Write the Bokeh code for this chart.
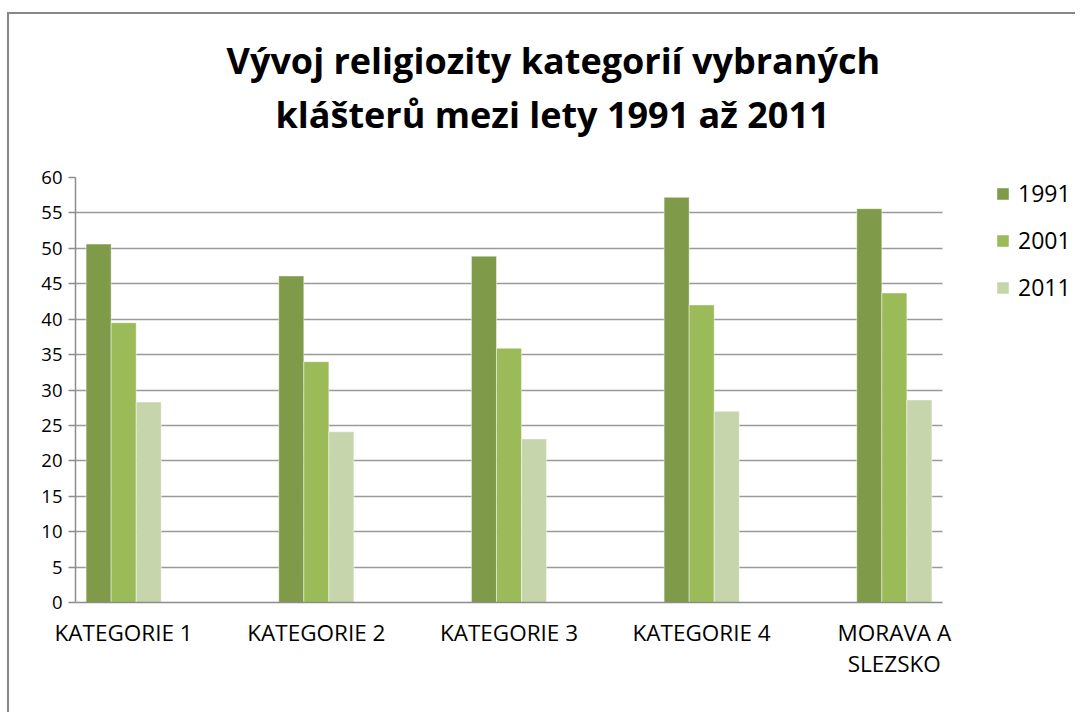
from bokeh.plotting import figure
from bokeh.models import (Range1d, FixedTicker, SingleIntervalTicker, Legend, LegendItem,
                          ColumnDataSource, Title)
from bokeh.transform import dodge
from bokeh.embed import file_html
from bokeh.resources import INLINE

categories = ["KATEGORIE 1", "KATEGORIE 2", "KATEGORIE 3", "KATEGORIE 4", "MORAVA A\nSLEZSKO"]
years = ["1991", "2001", "2011"]
v1991 = [50.6, 46.1, 48.9, 57.2, 55.6]
v2001 = [39.5, 34.0, 35.9, 42.0, 43.7]
v2011 = [28.3, 24.1, 23.1, 27.0, 28.6]
colors = ["#7f9a48", "#9bbb59", "#c6d5ab"]
title_lines = ["Vývoj religiozity kategorií vybraných", "klášterů mezi lety 1991 až 2011"]

pos = list(range(len(categories)))
src = ColumnDataSource(dict(x=pos, y1991=v1991, y2001=v2001, y2011=v2011))

# plot area: categories occupy (-0.25, 4.25); the extra room on the right holds the legend
x_lo, x_hi_cat = -0.25, len(categories) - 0.75
W, H = 1068, 700
left, top, bottom = 66, 163, 112
cat_px = 867.0
x_hi = x_lo + (W - left) * (x_hi_cat - x_lo) / cat_px

p = figure(width=W, height=H, output_backend="svg", toolbar_location=None,
           x_range=Range1d(x_lo, x_hi), y_range=Range1d(0, 60),
           min_border_left=left, min_border_top=top, min_border_bottom=bottom, min_border_right=0)
p.styles = {"border-top": "2px solid #878787", "border-left": "2px solid #878787",
            "margin-top": "12px", "margin-left": "7px"}
p.outline_line_color = None
p.background_fill_color = "white"
p.border_fill_color = "white"

# titles: stacked outward from the plot area (spacer first, then line 2, then line 1)
p.add_layout(Title(text=" ", text_font_size="20px", standoff=15), "above")
p.add_layout(Title(text=title_lines[1], align="left", text_font="Open Sans",
                   text_font_style="bold", text_font_size="36px", text_color="black",
                   offset=200, standoff=0), "above")
p.add_layout(Title(text=title_lines[0], align="left", text_font="Open Sans",
                   text_font_style="bold", text_font_size="36px", text_color="black",
                   offset=151, standoff=6), "above")

bar_w = 0.13
renderers = []
for k, (yr, col) in enumerate(zip(years, colors)):
    r = p.vbar(x=dodge("x", (k - 1) * bar_w, range=p.x_range), top="y" + yr, width=bar_w,
               source=src, fill_color=col, line_color="white", line_alpha=0.45, line_width=1)
    renderers.append(r)

# axes
p.xaxis.bounds = (x_lo, x_hi_cat)
p.xaxis.ticker = FixedTicker(ticks=pos)
p.xaxis.major_label_overrides = {i: c for i, c in enumerate(categories)}
p.xaxis.major_tick_line_color = None
p.xaxis.minor_tick_line_color = None
p.xaxis.axis_line_color = "#8c8c8c"
p.xaxis.axis_line_width = 1.5
p.xaxis.major_label_text_font = "Open Sans"
p.xaxis.major_label_text_font_size = "22.5px"
p.xaxis.major_label_text_color = "black"
p.xaxis.major_label_text_line_height = 1.03
p.xaxis.major_label_standoff = 8

p.yaxis.ticker = SingleIntervalTicker(interval=5)
p.yaxis.minor_tick_line_color = None
p.yaxis.axis_line_color = "#8c8c8c"
p.yaxis.axis_line_width = 1.5
p.yaxis.major_tick_line_color = "#8c8c8c"
p.yaxis.major_tick_line_width = 1.5
p.yaxis.major_tick_out = 7
p.yaxis.major_tick_in = 0
p.yaxis.major_label_text_font = "Open Sans"
p.yaxis.major_label_text_font_size = "18.5px"
p.yaxis.major_label_text_color = "black"
p.yaxis.major_label_standoff = 6

p.xgrid.grid_line_color = None
p.ygrid.ticker = SingleIntervalTicker(interval=5)
p.ygrid.grid_line_color = "#9a9a9a"
p.ygrid.grid_line_width = 1.5
p.ygrid.cross_bounds = (x_lo, x_hi_cat)

legend = Legend(items=[LegendItem(label=yr, renderers=[r]) for yr, r in zip(years, renderers)],
                location=(920, 299), orientation="vertical", border_line_color=None,
                background_fill_alpha=0, glyph_width=15, glyph_height=15,
                label_text_font="Open Sans", label_text_font_size="23px",
                label_text_color="black", spacing=15, padding=0, margin=0, label_standoff=8)
p.add_layout(legend, "center")

open("out.html", "w").write(file_html(p, INLINE))
